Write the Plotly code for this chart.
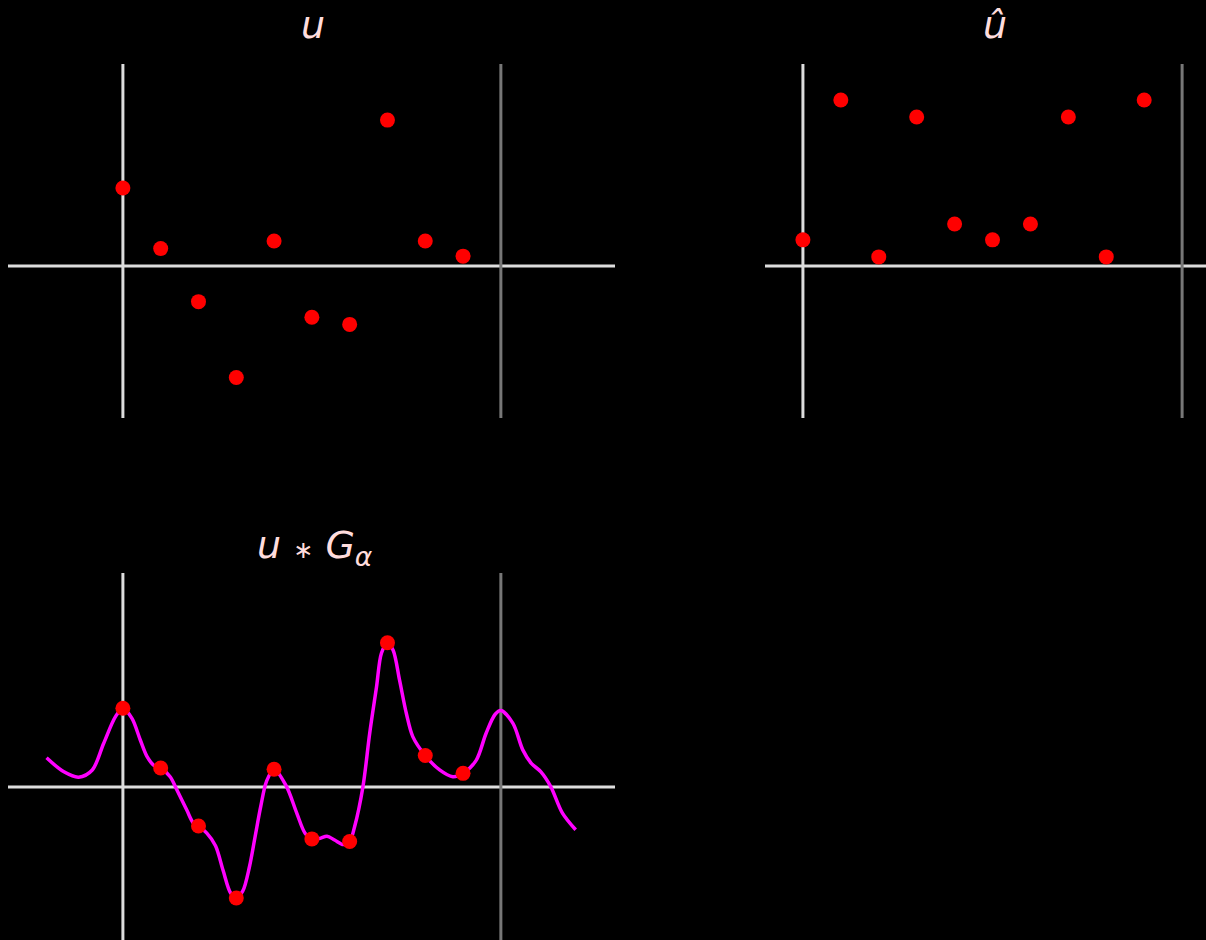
import plotly.graph_objects as go

# sample positions and values
n = [0, 1, 2, 3, 4, 5, 6, 7, 8, 9]
u = [2.06, 0.46, -0.94, -2.94, 0.66, -1.35, -1.54, 3.85, 0.66, 0.26]
u_hat = [0.69, 4.38, 0.24, 3.93, 1.11, 0.69, 1.11, 3.93, 0.24, 4.38]

# smoothed signal u * G_alpha
u_conv = [2.08, 0.50, -1.03, -2.93, 0.47, -1.37, -1.44, 3.81, 0.83, 0.36]
curve_x = [-2.02, -1.56, -1.17, -0.81, -0.51, -0.20, 0.0, 0.24, 0.46, 0.64, 0.81,
           1.0, 1.25, 1.43, 1.69, 1.87, 2.0, 2.22, 2.45, 2.65, 2.85, 3.0, 3.17, 3.35,
           3.5, 3.65, 3.8, 4.0, 4.33, 4.6, 4.82, 5.0, 5.2, 5.4, 5.6, 5.83, 6.0, 6.13,
           6.35, 6.53, 6.71, 6.84, 7.0, 7.15, 7.32, 7.5, 7.67, 8.0, 8.38, 8.73, 9.0,
           9.35, 9.61, 9.85, 10.0, 10.32, 10.58, 10.8, 11.06, 11.32, 11.63, 11.98]
curve_y = [0.77, 0.40, 0.26, 0.45, 1.15, 1.85, 2.08, 1.81, 1.24, 0.80, 0.58,
           0.50, 0.27, -0.08, -0.61, -0.96, -1.03, -1.22, -1.55, -2.20, -2.80, -2.93, -2.75, -2.10,
           -1.30, -0.50, 0.15, 0.47, 0.01, -0.69, -1.22, -1.37, -1.36, -1.30, -1.40, -1.52, -1.44, -1.05,
           0.0, 1.42, 2.64, 3.53, 3.81, 3.61, 2.82, 1.94, 1.33, 0.83, 0.45, 0.27, 0.36,
           0.71, 1.42, 1.92, 2.02, 1.68, 0.98, 0.63, 0.40, 0.01, -0.69, -1.13]

W, H = 1206, 940
dot = dict(color="#ff0000", size=15)

fig = go.Figure()
fig.add_trace(go.Scatter(x=n, y=u, mode="markers", marker=dot, xaxis="x", yaxis="y"))
fig.add_trace(go.Scatter(x=n, y=u_hat, mode="markers", marker=dot, xaxis="x2", yaxis="y2"))
fig.add_trace(go.Scatter(x=curve_x, y=curve_y, mode="lines",
                         line=dict(color="#ff00ff", width=3.5, shape="spline", smoothing=0.9),
                         xaxis="x3", yaxis="y3"))
fig.add_trace(go.Scatter(x=n, y=u_conv, mode="markers", marker=dot, xaxis="x3", yaxis="y3"))

ax = dict(showgrid=False, showticklabels=False, ticks="", showline=False,
          zeroline=False, fixedrange=True)

top = [1 - 418 / H, 1 - 64 / H]
fig.update_layout(
    width=W, height=H, showlegend=False,
    paper_bgcolor="black", plot_bgcolor="black",
    margin=dict(l=0, r=0, t=0, b=0),
    xaxis=dict(ax, domain=[8 / W, 615 / W], range=[-3.04, 13.02]),
    yaxis=dict(ax, domain=top, range=[-4.01, 5.33]),
    xaxis2=dict(ax, domain=[765 / W, 1.0], range=[-1, 10.63]),
    yaxis2=dict(ax, domain=top, range=[-4.01, 5.33]),
    xaxis3=dict(ax, domain=[8 / W, 615 / W], range=[-3.04, 13.02]),
    yaxis3=dict(ax, domain=[0, 1 - 573 / H], range=[-4.04, 5.65]),
)

# axis lines: y = 0, x = 0 and the gray one at x = N
for i in ["", "2", "3"]:
    fig.add_shape(type="line", xref="x" + i + " domain", yref="y" + i, x0=0, x1=1, y0=0, y1=0,
                  line=dict(color="#dddddd", width=3), layer="below")
    fig.add_shape(type="line", xref="x" + i, yref="y" + i + " domain", x0=0, x1=0, y0=0, y1=1,
                  line=dict(color="#dddddd", width=3), layer="below")
    fig.add_shape(type="line", xref="x" + i, yref="y" + i + " domain", x0=10, x1=10, y0=0, y1=1,
                  line=dict(color="#777777", width=3), layer="below")

tfont = dict(family="DejaVu Sans", size=38, color="#ffdddd")
titles = [("<i>u</i>", 313, 25), ("<i>û</i>", 995, 25),
          ("<i>u</i> <span style='font-size:24px'>∗</span> <i>G</i><sub><i>α</i></sub>", 315, 547)]
for txt, px, py in titles:
    fig.add_annotation(text=txt, x=px / W, y=1 - py / H, xref="paper", yref="paper",
                       showarrow=False, font=tfont, xanchor="center", yanchor="middle")

fig.write_html("out.html", config={"displayModeBar": False},
               post_script="document.body.style.margin='0';document.body.style.background='black';")
